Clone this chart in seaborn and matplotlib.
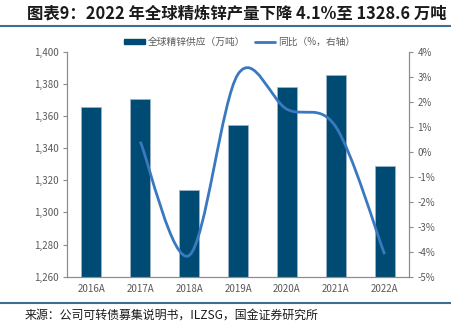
import numpy as np
import pandas as pd
import matplotlib
matplotlib.use("Agg")
import matplotlib.pyplot as plt
import seaborn as sns
from matplotlib.path import Path
from matplotlib.patches import PathPatch
from matplotlib.lines import Line2D
from matplotlib.patches import Patch
from matplotlib.ticker import FuncFormatter, MultipleLocator, FixedLocator

years = ["2016A", "2017A", "2018A", "2019A", "2020A", "2021A", "2022A"]
supply = [1365.8, 1370.8, 1313.9, 1354.6, 1377.9, 1385.7, 1328.6]
yoy = [np.nan, 0.4, -4.15, 3.1, 1.7, 1.0, -4.1]

title = "图表9：2022 年全球精炼锌产量下降 4.1%至 1328.6 万吨"
source = "来源：公司可转债募集说明书，ILZSG，国金证券研究所"
bar_label = "全球精锌供应（万吨）"
line_label = "同比（%，右轴）"

sns.set_theme(style="white")
plt.rcParams["font.family"] = ["Noto Sans CJK SC", "DejaVu Sans"]

BAR = "#004B73"
LINE = "#3A79BF"
GREY = "#595959"
SPINE = "#8C8C8C"
RULE = "#3E6E92"

fig = plt.figure(figsize=(4.51, 3.23), dpi=100)
ax = fig.add_axes([67/451, 1-276.7/323, (409-67)/451, (276.7-51.7)/323])

df = pd.DataFrame({"year": years, "supply": supply})
sns.barplot(data=df, x="year", y="supply", color=BAR, width=0.41,
            edgecolor="#9DB3C6", linewidth=0.6, ax=ax, saturation=1)
ax.set_ylim(1260, 1400)
ax.set_xlim(-0.5, len(years)-0.5)
ax.yaxis.set_major_locator(MultipleLocator(20))
ax.yaxis.set_major_formatter(FuncFormatter(lambda v, p: f"{v:,.0f}"))
ax.set_xlabel("")
ax.set_ylabel("")

ax2 = ax.twinx()
ax2.set_ylim(-5, 4)
ax2.yaxis.set_major_locator(MultipleLocator(1))
ax2.yaxis.set_major_formatter(FuncFormatter(lambda v, p: f"{v:.0f}%"))

# smoothed line (Excel-like Bezier) through yoy points
pts = [(i, v) for i, v in enumerate(yoy) if not np.isnan(v)]
P = np.array(pts, dtype=float)
n = len(P)
verts = [tuple(P[0])]
codes = [Path.MOVETO]
for i in range(n-1):
    p_prev = P[i-1] if i > 0 else P[i]
    p_next2 = P[i+2] if i+2 < n else P[i+1]
    c1 = P[i] + (P[i+1]-p_prev)/6
    c2 = P[i+1] - (p_next2-P[i])/6
    verts += [tuple(c1), tuple(c2), tuple(P[i+1])]
    codes += [Path.CURVE4]*3
patch = PathPatch(Path(verts, codes), facecolor="none", edgecolor=LINE,
                  linewidth=2.0, capstyle="butt", zorder=5)
ax2.add_patch(patch)

for a in (ax, ax2):
    for s in a.spines.values():
        s.set_color(SPINE)
        s.set_linewidth(0.8)
    a.spines["top"].set_visible(False)
    a.tick_params(axis="y", colors=SPINE, labelcolor=GREY, labelsize=7,
                  length=3, width=0.8, direction="out", pad=3)
ax.tick_params(axis="x", length=0, labelcolor=GREY, labelsize=7, pad=5)
ax.xaxis.set_minor_locator(FixedLocator(np.arange(0.5, len(years)-1, 1)))
ax.tick_params(axis="x", which="minor", length=3, width=0.8, color=SPINE,
               direction="out")
ax.grid(False)
ax2.grid(False)

handles = [Patch(facecolor=BAR, edgecolor=BAR), Line2D([0], [0], color=LINE, lw=2)]
fig.legend(handles, [bar_label, line_label], loc="center",
           bbox_to_anchor=(240/451, 1-42/323), ncol=2, frameon=False,
           fontsize=7, labelcolor=GREY, handlelength=2.1, handleheight=0.55,
           handletextpad=0.3, columnspacing=1.0, borderaxespad=0)

fig.text(27/451, 1-13/323, title, fontsize=11.8, fontweight="bold",
         color="#1A1A1A", va="center", ha="left")
fig.add_artist(Line2D([0, 1], [1-25.5/323, 1-25.5/323], color=RULE, lw=1.5,
                      transform=fig.transFigure))
fig.add_artist(Line2D([0, 1], [1-302.5/323, 1-302.5/323], color=RULE, lw=1.5,
                      transform=fig.transFigure))
fig.text(25/451, 1-315/323, source, fontsize=8.6, color="#1A1A1A",
         va="center", ha="left")

fig.savefig("out.png", dpi=100)
